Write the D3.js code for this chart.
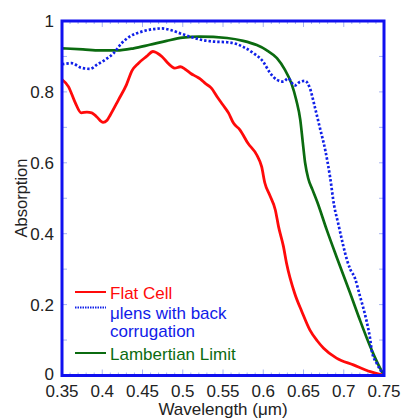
<!DOCTYPE html>
<html>
<head>
<meta charset="utf-8">
<script src="https://cdn.jsdelivr.net/npm/d3@7"></script>
<style>
	body { margin: 0; background: #ffffff; }
	text { font-family: "Liberation Sans", Arial, sans-serif; }
</style>
</head>
<body>
<svg id="svg_canvas" width="404" height="418"></svg>
<script>
// wavelength (um) / absorption
var flatWl = [0.35, 0.358, 0.366, 0.374, 0.381, 0.387, 0.393, 0.401, 0.406, 0.41, 0.42, 0.43, 0.437, 0.445, 0.455, 0.463, 0.468, 0.474, 0.48, 0.486, 0.49, 0.497, 0.503, 0.51, 0.517, 0.522, 0.528, 0.535, 0.544, 0.55, 0.557, 0.563, 0.571, 0.581, 0.592, 0.598, 0.602, 0.608, 0.615, 0.619, 0.625, 0.629, 0.639, 0.648, 0.658, 0.667, 0.675, 0.691, 0.712, 0.733, 0.745, 0.75];
var flatAbs = [0.835, 0.815, 0.772, 0.741, 0.743, 0.741, 0.73, 0.714, 0.72, 0.735, 0.777, 0.82, 0.86, 0.881, 0.9, 0.914, 0.91, 0.9, 0.885, 0.872, 0.867, 0.871, 0.864, 0.852, 0.843, 0.836, 0.824, 0.812, 0.782, 0.763, 0.74, 0.712, 0.693, 0.655, 0.622, 0.589, 0.543, 0.509, 0.467, 0.42, 0.365, 0.316, 0.232, 0.18, 0.128, 0.098, 0.077, 0.049, 0.03, 0.011, 0.003, 0];

var lensWl = [0.35, 0.362, 0.374, 0.385, 0.393, 0.403, 0.414, 0.424, 0.434, 0.449, 0.463, 0.474, 0.484, 0.497, 0.509, 0.521, 0.538, 0.555, 0.567, 0.575, 0.588, 0.6, 0.608, 0.617, 0.625, 0.631, 0.639, 0.646, 0.652, 0.658, 0.664, 0.67, 0.677, 0.683, 0.688, 0.693, 0.699, 0.704, 0.708, 0.714, 0.72, 0.728, 0.733, 0.735, 0.741, 0.75];
var lensAbs = [0.878, 0.881, 0.868, 0.865, 0.876, 0.89, 0.909, 0.937, 0.956, 0.97, 0.977, 0.979, 0.975, 0.965, 0.956, 0.948, 0.942, 0.94, 0.935, 0.927, 0.909, 0.885, 0.855, 0.834, 0.829, 0.838, 0.818, 0.829, 0.831, 0.81, 0.758, 0.702, 0.636, 0.56, 0.48, 0.43, 0.37, 0.326, 0.3, 0.274, 0.225, 0.157, 0.1, 0.067, 0.034, 0];

var lambWl = [0.35, 0.376, 0.397, 0.418, 0.439, 0.459, 0.48, 0.5, 0.521, 0.555, 0.575, 0.592, 0.604, 0.617, 0.627, 0.635, 0.641, 0.646, 0.649, 0.652, 0.656, 0.661, 0.667, 0.679, 0.691, 0.708, 0.72, 0.733, 0.742, 0.75];
var lambAbs = [0.923, 0.92, 0.917, 0.917, 0.923, 0.933, 0.944, 0.953, 0.956, 0.952, 0.944, 0.932, 0.918, 0.895, 0.862, 0.824, 0.777, 0.721, 0.66, 0.6, 0.555, 0.525, 0.49, 0.41, 0.335, 0.232, 0.157, 0.081, 0.035, 0];

var xTicks = [0.35, 0.4, 0.45, 0.5, 0.55, 0.6, 0.65, 0.7, 0.75];
var xTickLabels = ["0.35", "0.4", "0.45", "0.5", "0.55", "0.6", "0.65", "0.7", "0.75"];
var yTicks = [0, 0.2, 0.4, 0.6, 0.8, 1];
var yTickLabels = ["0", "0.2", "0.4", "0.6", "0.8", "1"];

var seriesNames = ["Flat Cell", "\u03bclens with back", "Lambertian Limit"];

function zipSeries(wl, ab) {
	return wl.map(function(w, i) { return [w, ab[i]]; });
}

function draw() {
	var svg = d3.select("#svg_canvas");
	var left = 62, right = 384, top = 21, bottom = 375.5;

	var x = d3.scaleLinear().domain([0.35, 0.75]).range([left, right]);
	var y = d3.scaleLinear().domain([0, 1]).range([bottom, top]);

	svg.append("clipPath").attr("id", "clip")
		.append("rect")
		.attr("x", left).attr("y", top)
		.attr("width", right - left).attr("height", bottom - top);

	// faint inward ticks
	var tickColor = "#a8b4f0";
	var xMinor = d3.range(35, 76).map(function(d) { return d / 100; });
	var yMinor = d3.range(0, 11).map(function(d) { return d / 10; });
	var ticks = svg.append("g").attr("stroke", tickColor).attr("stroke-width", 1);

	xMinor.forEach(function(v) {
		var major = Math.abs(v * 20 - Math.round(v * 20)) < 1e-6;
		var len = major ? 6 : 3;
		ticks.append("line").attr("x1", x(v)).attr("x2", x(v))
			.attr("y1", bottom).attr("y2", bottom - len);
		ticks.append("line").attr("x1", x(v)).attr("x2", x(v))
			.attr("y1", top).attr("y2", top + len);
	});
	yMinor.forEach(function(v) {
		ticks.append("line").attr("x1", left).attr("x2", left + 5)
			.attr("y1", y(v)).attr("y2", y(v));
		ticks.append("line").attr("x1", right).attr("x2", right - 5)
			.attr("y1", y(v)).attr("y2", y(v));
	});

	var line = d3.line()
		.x(function(d) { return x(d[0]); })
		.y(function(d) { return y(d[1]); })
		.curve(d3.curveMonotoneX);

	var plot = svg.append("g").attr("clip-path", "url(#clip)");

	plot.append("path")
		.datum(zipSeries(lambWl, lambAbs))
		.attr("d", line)
		.attr("fill", "none")
		.attr("stroke", "#0b6b10")
		.attr("stroke-width", 2.7);

	plot.append("path")
		.datum(zipSeries(lensWl, lensAbs))
		.attr("d", line)
		.attr("fill", "none")
		.attr("stroke", "#1020e8")
		.attr("stroke-width", 2.7)
		.attr("stroke-dasharray", "2.4,2");

	plot.append("path")
		.datum(zipSeries(flatWl, flatAbs))
		.attr("d", line)
		.attr("fill", "none")
		.attr("stroke", "#ff0a0a")
		.attr("stroke-width", 2.8);

	// frame
	svg.append("rect")
		.attr("x", left).attr("y", top)
		.attr("width", right - left).attr("height", bottom - top)
		.attr("fill", "none")
		.attr("stroke", "#1010f0")
		.attr("stroke-width", 3);

	// tick labels
	svg.selectAll("text.xl")
		.data(xTicks)
		.enter()
		.append("text")
		.attr("class", "xl")
		.attr("x", function(d) { return x(d); })
		.attr("y", 397)
		.attr("text-anchor", "middle")
		.style("font-size", "17px")
		.style("fill", "#222")
		.text(function(d, i) { return xTickLabels[i]; });

	svg.selectAll("text.yl")
		.data(yTicks)
		.enter()
		.append("text")
		.attr("class", "yl")
		.attr("x", 54)
		.attr("y", function(d) { return y(d) - (d === 0 ? 1.5 : 0); })
		.attr("dy", "0.35em")
		.attr("text-anchor", "end")
		.style("font-size", "17px")
		.style("fill", "#222")
		.text(function(d, i) { return yTickLabels[i]; });

	svg.append("text")
		.attr("x", 223).attr("y", 415)
		.attr("text-anchor", "middle")
		.style("font-size", "17px")
		.style("fill", "#222")
		.text("Wavelength (\u03bcm)");

	svg.append("text")
		.attr("transform", "translate(27,198) rotate(-90)")
		.attr("text-anchor", "middle")
		.style("font-size", "16.5px")
		.style("fill", "#222")
		.text("Absorption");

	// legend
	var lg = svg.append("g");
	lg.append("line").attr("x1", 75).attr("x2", 106).attr("y1", 292).attr("y2", 292)
		.attr("stroke", "#ff0a0a").attr("stroke-width", 2);
	lg.append("line").attr("x1", 75).attr("x2", 106).attr("y1", 307.5).attr("y2", 307.5)
		.attr("stroke", "#1020e8").attr("stroke-width", 2).attr("stroke-dasharray", "1.5,1");
	lg.append("line").attr("x1", 75).attr("x2", 106).attr("y1", 353).attr("y2", 353)
		.attr("stroke", "#0b6b10").attr("stroke-width", 2);

	lg.append("text").attr("x", 110).attr("y", 298.5)
		.style("font-size", "17px").style("fill", "#ff0a0a").text(seriesNames[0]);
	lg.append("text").attr("x", 110).attr("y", 318.5)
		.style("font-size", "17px").style("fill", "#1020e8").text(seriesNames[1]);
	lg.append("text").attr("x", 110).attr("y", 336.5)
		.style("font-size", "17px").style("fill", "#1020e8").text("corrugation");
	lg.append("text").attr("x", 110).attr("y", 359.5)
		.style("font-size", "17px").style("fill", "#0b6b10").text(seriesNames[2]);
}

draw();
</script>
</body>
</html>
